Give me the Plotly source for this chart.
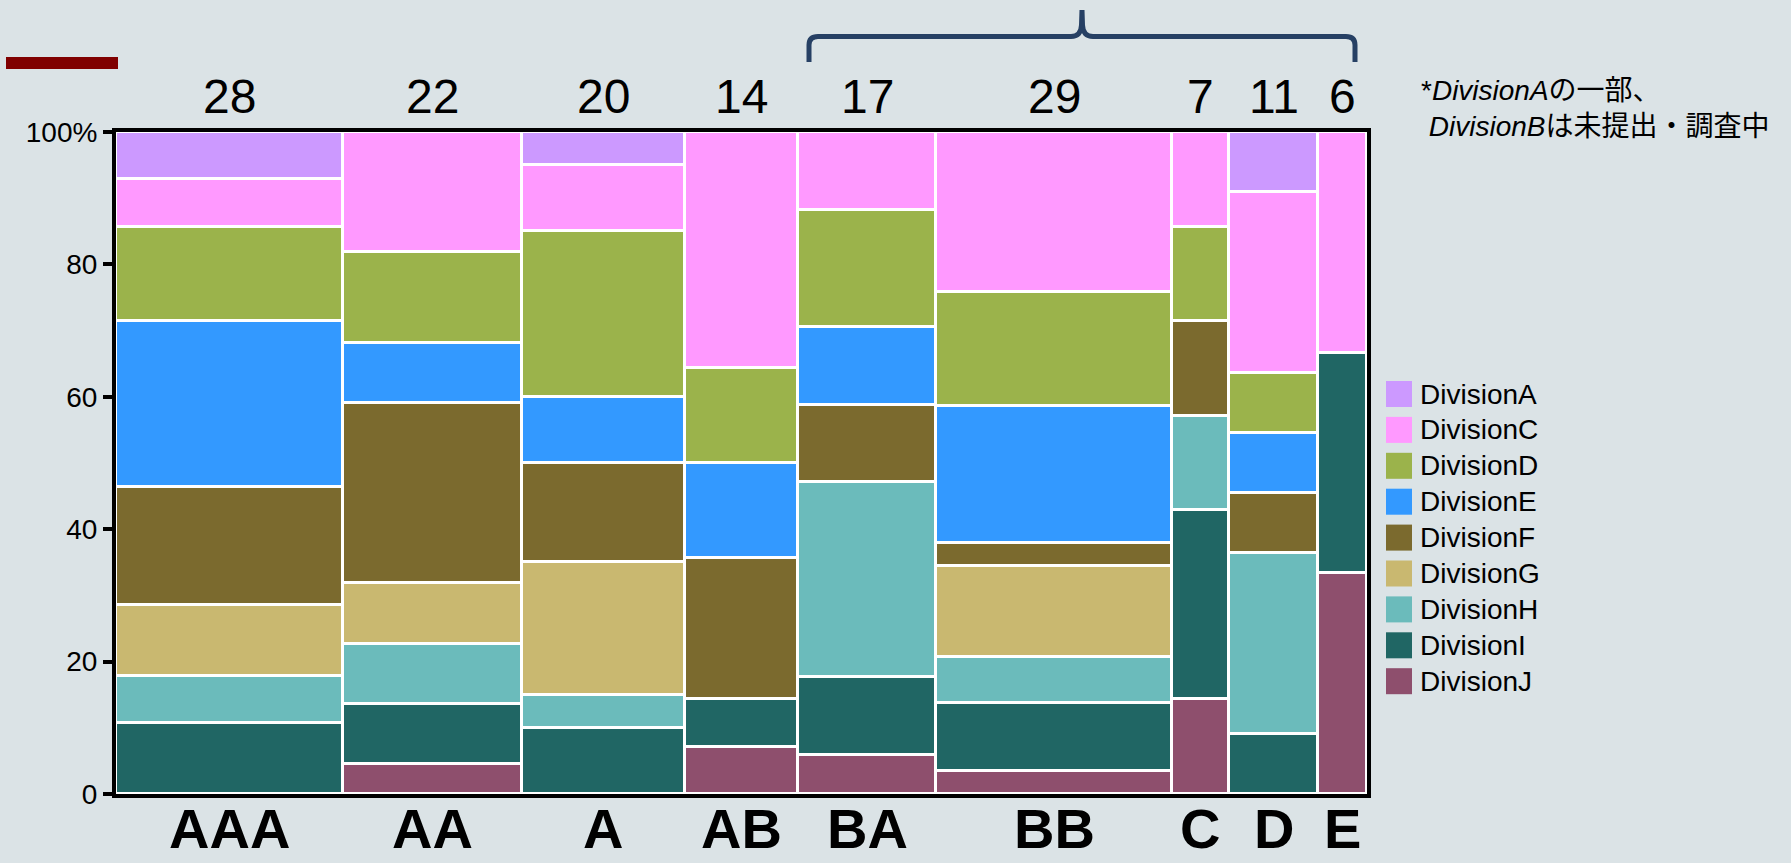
import plotly.graph_objects as go

# ---------------- data ----------------
categories = ["AAA", "AA", "A", "AB", "BA", "BB", "C", "D", "E"]
divisions = ["DivisionA", "DivisionC", "DivisionD", "DivisionE", "DivisionF",
             "DivisionG", "DivisionH", "DivisionI", "DivisionJ"]
# counts per division for each category (top of stack first)
count_A = [2, 0, 1, 0, 0, 0, 0, 1, 0]
count_C = [2, 4, 2, 5, 2, 7, 1, 3, 2]
count_D = [4, 3, 5, 2, 3, 5, 1, 1, 0]
count_E = [7, 2, 2, 2, 2, 6, 0, 1, 0]
count_F = [5, 6, 3, 3, 2, 1, 1, 1, 0]
count_G = [3, 2, 4, 0, 0, 4, 0, 0, 0]
count_H = [2, 2, 1, 0, 5, 2, 1, 3, 0]
count_I = [3, 2, 2, 1, 2, 3, 2, 1, 2]
count_J = [0, 1, 0, 1, 1, 1, 1, 0, 2]
counts = [count_A, count_C, count_D, count_E, count_F, count_G, count_H, count_I, count_J]
colors = ["#CC99FF", "#FF99FF", "#9BB34B", "#3399FF", "#7B6A2E",
          "#C9B870", "#6BBBBB", "#206664", "#8E4F6D"]
ytick_vals = [0, 20, 40, 60, 80, 100]
ytick_text = ["0", "20", "40", "60", "80", "100%"]
note_text = "*<i>DivisionA</i>の一部、<br>\u00a0<i>DivisionB</i>は未提出・調査中"

# ---------------- layout helpers ----------------
W, H = 1791, 863
L, R, T, B = 116, 424, 132, 69
PW, PH = W - L - R, H - T - B


def px(x):
    return (x - L) / PW


def py(y):
    return (H - B - y) / PH


BG = "#DBE3E6"
FONT = "Liberation Sans, Arial, Noto Sans CJK JP, sans-serif"

totals = [sum(c[i] for c in counts) for i in range(len(categories))]
lefts = []
acc = 0
for n in totals:
    lefts.append(acc)
    acc += n
centers = [l + n / 2 for l, n in zip(lefts, totals)]
total_all = acc

fig = go.Figure()
# draw from bottom (J) to top (A)
for name, cnt, col in reversed(list(zip(divisions, counts, colors))):
    yv = [(c / n * 100) if c > 0 else None for c, n in zip(cnt, totals)]
    fig.add_trace(go.Bar(
        x=centers, y=yv, width=totals, name=name,
        marker=dict(color=col, line=dict(color="white", width=3)),
        showlegend=False,
    ))

annotations = []
# counts above columns
for cx, n in zip(centers, totals):
    annotations.append(dict(x=cx, xref="x", y=py(96), yref="paper", text=str(n),
                            showarrow=False, xanchor="center", yanchor="middle",
                            font=dict(family=FONT, size=48, color="black")))
# category labels below columns
for cx, cat in zip(centers, categories):
    annotations.append(dict(x=cx, xref="x", y=py(862), yref="paper", text=cat,
                            showarrow=False, xanchor="center", yanchor="bottom",
                            font=dict(family=FONT, size=56, color="black", weight="bold")))
# note
annotations.append(dict(x=px(1419), xref="paper", y=py(108), yref="paper", text=note_text,
                        showarrow=False, xanchor="left", yanchor="middle", align="left",
                        font=dict(family=FONT, size=28, color="black")))

shapes = []
# custom legend
for i, (name, col) in enumerate(zip(divisions, colors)):
    cy = 394 + 35.9 * i
    shapes.append(dict(type="rect", xref="paper", yref="paper",
                       x0=px(1386), x1=px(1412), y0=py(cy + 13), y1=py(cy - 13),
                       fillcolor=col, line=dict(width=0)))
    annotations.append(dict(x=px(1418), xref="paper", y=py(cy), yref="paper", text=name,
                            showarrow=False, xanchor="left", yanchor="middle",
                            font=dict(family=FONT, size=28, color="black")))
# red bar top-left
shapes.append(dict(type="rect", xref="paper", yref="paper",
                   x0=px(6), x1=px(118), y0=py(69), y1=py(57),
                   fillcolor="#800000", line=dict(width=0)))
# brace
pts = [("M", 809, 62), ("L", 809, 45), ("Q", 809, 36.5, 818, 36.5), ("L", 1071, 36.5),
       ("Q", 1081, 36.5, 1081.5, 25), ("L", 1082, 10), ("L", 1082.5, 25),
       ("Q", 1083, 36.5, 1093, 36.5), ("L", 1346, 36.5), ("Q", 1355, 36.5, 1355, 45),
       ("L", 1355, 62)]
path = ""
for p in pts:
    cmd = p[0]
    coords = p[1:]
    seg = []
    for j in range(0, len(coords), 2):
        seg.append(f"{px(coords[j]):.5f},{py(coords[j+1]):.5f}")
    path += cmd + " ".join(seg) + " "
shapes.append(dict(type="path", xref="paper", yref="paper", path=path.strip(),
                   line=dict(color="#264064", width=5)))

fig.update_layout(
    width=W, height=H,
    margin=dict(l=L, r=R, t=T, b=B, pad=0),
    paper_bgcolor=BG, plot_bgcolor=BG,
    barmode="stack", bargap=0,
    showlegend=False,
    annotations=annotations,
    shapes=shapes,
    font=dict(family=FONT, color="black"),
    xaxis=dict(range=[0, total_all], showgrid=False, zeroline=False,
               showticklabels=False, ticks="",
               showline=True, linecolor="black", linewidth=4, mirror=True),
    yaxis=dict(range=[0, 100], showgrid=False, zeroline=False,
               tickvals=ytick_vals, ticktext=ytick_text,
               ticks="outside", ticklen=9, tickwidth=4, tickcolor="black",
               tickfont=dict(family=FONT, size=28, color="black"),
               showline=True, linecolor="black", linewidth=4, mirror=True),
)

fig.write_html("out.html", config={"displayModeBar": False},
               post_script="document.body.style.margin='0';")
